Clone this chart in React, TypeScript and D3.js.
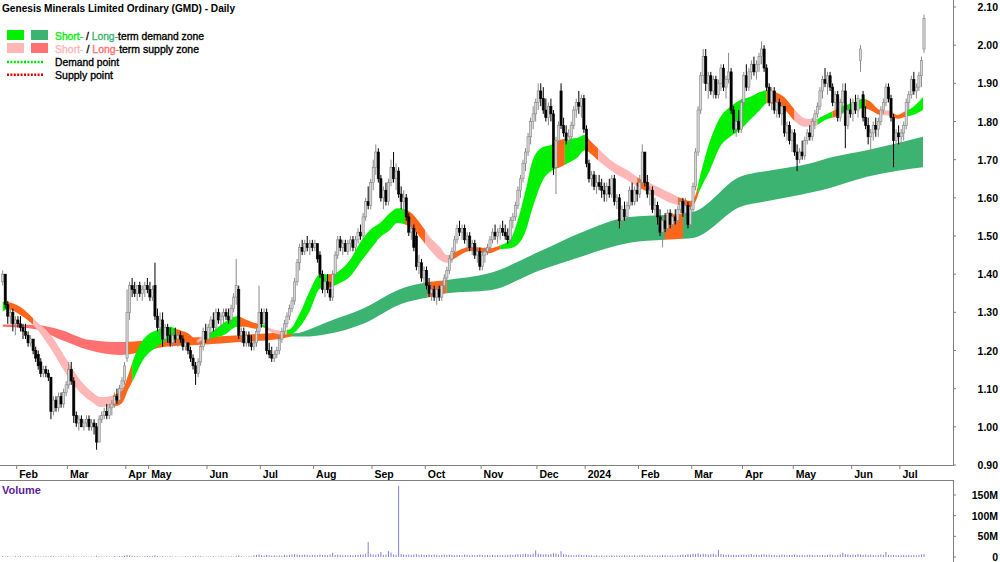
import React from 'react';
import * as d3 from 'd3';

// ---------- DATA ----------
// Daily candles, prices in cents: [open, high, low, close]
const jan23 = [[138,141,137,140],[140,140,131,132],[132,133,127,129],[129,131,127,130],[130,131,125,127],[127,129,124,128]];
const feb23 = [[128,129,126,127],[127,129,125,126],[126,127,123,125],[125,127,123,124],[124,125,121,122],[122,124,121,123],[123,123,119,120],[120,121,117,118],[119,120,115,116],[117,118,113,114],[114,116,113,115],[115,116,113,114],[114,115,112,113],[113,113,102,104],[104,108,103,107],[107,108,104,105],[105,109,104,108],[108,109,105,106],[106,110,105,109],[109,112,108,111]];
const mar23 = [[111,117,110,115],[115,117,111,112],[112,113,101,103],[103,104,100,101],[101,103,99,102],[102,103,100,100],[100,102,99,101],[101,103,100,102],[102,103,99,100],[100,102,99,101],[101,102,98,100],[100,101,94,96],[96,103,96,102],[102,104,101,103],[103,105,102,104],[104,106,102,103],[103,106,102,105],[105,107,103,106],[106,109,105,108],[108,110,106,107],[107,111,106,110],[110,113,109,112],[112,117,111,116]];
const apr23 = [[118,136,117,130],[130,138,128,137],[137,139,134,136],[136,138,134,135],[135,137,133,137],[137,138,134,135],[135,137,133,136],[136,138,134,137],[137,139,135,136]];
const may23 = [[136,138,133,134],[134,137,133,136],[137,143,128,129],[129,131,125,126],[126,130,124,128],[128,130,121,123],[123,127,122,126],[126,127,122,124],[124,126,121,122],[122,125,121,124],[124,126,122,123],[123,125,121,124],[124,125,122,123],[123,124,120,121],[121,123,120,122],[122,122,119,120],[120,121,117,118],[118,119,115,116],[116,117,111,114],[114,118,113,117],[117,122,116,121],[121,126,120,125],[125,127,122,123]];
const jun23 = [[123,127,122,126],[126,129,124,128],[128,130,125,126],[126,131,125,130],[130,131,127,128],[128,130,126,129],[129,131,127,130],[130,131,128,129],[129,131,127,128],[128,132,127,131],[131,135,130,134],[134,144,132,137],[136,137,123,124],[124,126,122,125],[125,126,121,122],[122,125,121,124],[124,125,121,122],[122,124,120,121],[121,123,120,122],[122,126,121,125],[125,137,124,130]];
const jul23 = [[130,131,126,127],[127,131,126,130],[130,131,119,120],[120,122,118,119],[119,121,117,118],[118,120,117,119],[119,121,118,120],[120,124,119,123],[123,126,122,125],[125,128,124,127],[127,130,126,129],[129,132,128,131],[131,134,130,133],[133,139,132,138],[138,144,137,143],[143,148,141,147],[147,149,145,146],[146,149,145,148],[148,150,146,147],[147,149,145,148],[148,149,146,147]];
const aug23 = [[147,149,146,148],[148,148,143,144],[145,146,139,140],[140,141,135,136],[136,139,134,138],[138,140,135,136],[136,138,133,134],[134,141,133,140],[140,146,139,145],[145,150,144,149],[149,150,146,147],[147,149,145,148],[148,149,146,146],[146,149,145,148],[148,150,146,149],[149,150,146,147],[147,150,146,149],[149,152,148,151],[151,153,149,150],[150,156,149,155],[155,160,154,159],[159,163,157,158],[158,165,157,164]];
const sep23 = [[164,170,162,168],[168,174,166,172],[172,173,164,165],[165,166,159,160],[160,163,157,162],[162,164,158,159],[159,165,158,164],[164,170,163,168],[168,172,164,165],[165,169,162,167],[167,168,160,161],[161,163,157,159],[159,162,156,160],[160,161,154,155],[155,156,150,151],[151,154,149,152],[152,153,146,147],[150,151,141,142],[142,145,140,143],[143,144,138,139],[139,142,137,141]];
const oct23 = [[141,142,136,137],[137,139,134,135],[135,138,133,136],[136,137,133,134],[134,137,132,136],[136,137,133,134],[134,138,133,137],[137,140,135,139],[139,142,138,141],[141,145,140,144],[144,147,143,146],[146,150,145,149],[149,153,148,152],[152,154,150,151],[151,153,149,152],[152,153,148,149],[149,151,146,150],[150,151,146,147],[147,149,145,148],[148,149,144,145],[145,147,143,146],[146,147,141,142]];
const nov23 = [[142,146,141,145],[145,147,143,146],[146,148,145,147],[147,150,146,149],[149,152,148,151],[151,153,149,150],[150,152,148,151],[151,153,149,152],[152,154,150,151],[151,153,149,150],[150,152,148,149],[149,155,148,154],[154,156,152,155],[155,159,154,158],[158,163,157,162],[162,166,160,165],[165,170,164,169],[169,173,167,172],[172,177,171,176],[176,181,174,180],[180,184,178,182],[182,186,180,185]];
const dec23 = [[185,190,183,188],[188,190,184,186],[186,189,182,183],[183,186,180,181],[181,185,179,184],[184,186,180,182],[182,183,166,168],[168,176,161,175],[175,180,174,179],[188,190,178,179],[179,181,176,177],[177,179,174,175],[175,178,173,176],[176,180,175,179],[179,184,178,183],[183,186,181,185],[185,188,182,184],[184,187,181,186],[186,187,177,178]];
const jan24 = [[178,179,168,169],[169,170,164,165],[165,167,163,166],[166,167,162,163],[163,166,161,164],[164,166,162,163],[163,165,160,162],[162,164,159,161],[161,164,159,163],[163,165,160,161],[161,166,160,165],[165,166,158,159],[159,161,157,160],[160,161,152,154],[154,158,153,157],[157,159,154,155],[155,159,154,158],[158,163,157,162],[162,164,158,159],[159,163,158,162],[162,164,159,161]];
const feb24 = [[161,166,160,164],[164,174,163,172],[172,172,163,164],[164,166,160,161],[161,163,158,162],[162,163,156,157],[157,160,155,158],[158,159,153,155],[155,157,150,151],[151,155,147,154],[154,156,151,152],[152,157,151,156],[156,157,152,153],[153,156,152,155],[155,157,153,154],[154,158,153,157],[157,160,156,159],[159,160,155,156],[156,160,155,158],[158,159,152,153],[153,158,152,157]];
const mar24 = [[157,164,156,163],[163,173,162,172],[172,184,171,183],[183,193,182,192],[192,199,190,197],[197,199,188,190],[190,193,186,192],[192,193,187,188],[188,192,186,191],[191,192,186,187],[187,191,186,190],[190,195,188,194],[194,195,188,189],[189,192,186,191],[191,198,190,193],[193,194,182,183],[183,184,177,178],[178,181,176,180],[180,183,177,178],[178,186,177,185]];
const apr24 = [[185,193,184,192],[192,195,188,189],[189,194,188,193],[193,196,191,195],[195,197,192,193],[193,196,191,195],[195,198,193,197],[197,201,195,199],[199,200,193,194],[194,195,188,189],[189,190,184,185],[185,189,183,188],[188,189,182,183],[183,186,181,185],[185,186,181,182],[182,185,179,184],[184,184,176,177],[177,180,175,179],[179,180,174,175],[175,178,172,177]];
const may24 = [[177,178,171,172],[172,174,167,170],[170,173,169,172],[172,175,170,171],[171,176,170,175],[175,178,174,177],[177,179,175,176],[176,181,175,180],[180,183,178,182],[182,185,181,184],[184,189,183,188],[188,192,186,191],[191,194,189,190],[190,193,187,192],[192,193,188,189],[189,190,184,185],[185,188,183,187],[187,188,180,181],[181,186,180,185],[185,190,182,188],[188,190,173,179],[179,184,178,183],[183,186,181,182]];
const jun24 = [[182,186,180,185],[185,187,182,183],[183,187,181,186],[196,200,193,199],[187,188,180,181],[181,184,178,179],[179,181,174,176],[176,178,172,177],[177,180,175,179],[179,181,176,178],[178,181,176,180],[180,184,179,183],[183,186,182,185],[185,190,184,189],[189,190,185,186],[186,187,180,181],[181,182,168,175],[175,178,173,177],[177,179,174,176]];
const jul24 = [[176,178,174,177],[177,180,175,179],[179,186,178,185],[185,188,183,187],[187,192,186,191],[191,193,187,188],[188,190,186,189],[189,193,188,192],[192,197,189,196],[199,208,198,207]];

// Daily volume in millions
const volumeMillions = [
  2,1,2,1,1,2,
  1,2,1,1,2,1,1,2,1,1,1,2,1,3,2,1,1,2,1,1,
  2,1,2,1,1,1,2,1,1,1,1,3,2,1,1,2,1,1,2,1,2,2,3,
  5,4,3,2,2,2,1,2,2,
  2,2,4,2,1,2,1,1,2,1,1,1,1,1,2,1,1,2,2,1,2,1,1,
  1,1,2,1,1,2,1,1,1,2,1,3,4,2,1,1,2,1,4,5,6,
  4,3,5,4,3,4,3,4,3,5,4,5,6,7,6,5,5,6,5,4,5,
  5,4,6,5,5,4,6,10,5,6,5,4,5,4,5,4,5,5,6,6,8,36,8,
  6,5,7,12,5,6,14,11,6,5,172,7,6,5,6,5,6,7,5,6,5,
  5,6,5,6,5,4,5,6,5,6,5,4,5,5,4,6,5,4,5,4,5,6,
  5,4,5,4,5,4,5,4,5,4,5,6,5,6,7,6,7,8,7,6,8,16,
  8,7,6,7,6,7,9,8,6,14,7,6,5,5,4,5,6,5,4,
  5,4,4,3,4,3,4,3,4,3,4,3,4,3,3,4,3,4,3,4,3,
  4,5,4,3,4,3,4,3,4,5,4,3,4,4,3,4,5,6,5,7,6,
  8,7,9,6,8,7,6,7,8,6,17,7,6,5,6,5,6,5,5,6,
  6,5,6,7,5,6,5,6,7,5,6,5,5,4,5,6,5,4,5,5,
  6,5,4,5,4,5,6,5,4,5,4,5,4,5,6,5,4,5,6,10,7,6,5,
  6,5,7,6,5,6,5,6,5,4,5,6,5,12,5,4,5,4,4,
  4,5,4,5,4,5,4,5,6,7,
];

// Month labels with the bar index of the first trading day
const monthLabels = ['Feb','Mar','Apr','May','Jun','Jul','Aug','Sep','Oct','Nov','Dec','2024','Feb','Mar','Apr','May','Jun','Jul'];
const monthStartIndex = [6,26,49,58,81,102,123,146,167,189,211,230,251,272,292,312,335,354];

const priceTicks = [0.9,1.0,1.1,1.2,1.3,1.4,1.5,1.6,1.7,1.8,1.9,2.0,2.1];
const volumeTicks = [0,50,100,150];
const volumeTickLabels = ['0','50M','100M','150M'];

// Short-term band: [bar index, upper, lower]
const shortBand = [
  [0,1.328,1.302],[2,1.327,1.308],[7,1.314,1.293],[12.7,1.280,1.262],[19.6,1.235,1.198],[25.3,1.175,1.135],
  [30.5,1.123,1.090],[35.6,1.089,1.063],[38.3,1.078,1.052],[44,1.084,1.054],[47,1.095,1.062],[49.4,1.135,1.097],
  [51.4,1.175,1.123],[55.3,1.228,1.175],[60.8,1.254,1.210],[65.9,1.262,1.228],[69,1.255,1.225],[73,1.245,1.228],
  [76.6,1.228,1.220],[79,1.240,1.228],[82,1.248,1.232],[87.6,1.275,1.242],[92.3,1.290,1.262],[95.5,1.282,1.262],
  [99.4,1.272,1.257],[102.2,1.268,1.262],[105.3,1.258,1.250],[109.3,1.252,1.242],[113.2,1.256,1.242],[117.1,1.298,1.262],
  [121.1,1.358,1.305],[125,1.400,1.362],[129,1.400,1.366],[132.9,1.410,1.377],[136.8,1.437,1.393],[140.8,1.482,1.430],
  [144.7,1.516,1.463],[148.7,1.534,1.497],[152.6,1.560,1.516],[155.4,1.573,1.534],[160.5,1.563,1.524],[164.4,1.534,1.497],
  [168.4,1.497,1.463],[172.3,1.471,1.437],[175,1.450,1.430],[178.2,1.458,1.442],[184.1,1.471,1.461],[192,1.468,1.455],
  [195.9,1.475,1.465],[199.9,1.490,1.468],[202.6,1.534,1.476],[205.8,1.613,1.508],[208.9,1.700,1.576],[212.9,1.733,1.647],
  [216.8,1.740,1.673],[219.6,1.752,1.680],[222.4,1.755,1.690],[226.3,1.757,1.705],[229.4,1.765,1.725],[231.4,1.750,1.717],
  [235.3,1.725,1.694],[240.5,1.694,1.668],[246,1.673,1.647],[251.1,1.650,1.626],[255,1.639,1.613],[259,1.626,1.600],
  [262.9,1.613,1.587],[266.9,1.600,1.580],[270.8,1.592,1.576],[272.8,1.605,1.588],[274.7,1.655,1.620],[278.7,1.750,1.673],
  [282.6,1.810,1.733],[286.6,1.838,1.760],[290.5,1.856,1.778],[294.4,1.864,1.804],[298.4,1.877,1.830],[301.1,1.882,1.848],
  [304.3,1.877,1.845],[308.2,1.862,1.830],[312.2,1.830,1.800],[316.1,1.808,1.786],[320,1.806,1.788],[324,1.817,1.804],
  [327.9,1.830,1.812],[331.9,1.843,1.825],[335.8,1.850,1.830],[339,1.860,1.835],[341.7,1.853,1.830],[345.7,1.830,1.817],
  [349.6,1.828,1.815],[352.4,1.817,1.807],[355.5,1.826,1.812],[358.7,1.838,1.817],[362.6,1.864,1.830],
];

// Long-term band: [bar index, upper, lower]
const longBand = [
  [0,1.268,1.262],[13,1.267,1.256],[23,1.254,1.228],[34,1.228,1.201],[46,1.222,1.188],[54,1.225,1.195],
  [64,1.233,1.210],[78,1.235,1.215],[93.5,1.240,1.222],[109,1.246,1.230],[115,1.245,1.237],[121,1.256,1.237],
  [128,1.275,1.243],[142,1.310,1.270],[157,1.362,1.322],[168.4,1.380,1.340],[175,1.385,1.350],[192,1.403,1.358],
  [211.7,1.460,1.410],[227.5,1.508,1.445],[247,1.550,1.482],[261,1.555,1.490],[272,1.563,1.495],[290.5,1.655,1.576],
  [303.5,1.673,1.594],[318,1.690,1.613],[327,1.707,1.628],[340.5,1.725,1.655],[362.6,1.760,1.680],
];

// Zone colouring: [from index, to index, state]
const shortZones = [
  [0,2,'d'],[2,12,'n'],[12,43.5,'s'],[43.5,51,'n'],[51,68,'d'],[68,76.5,'n'],[76.5,79,'s'],[79,93.5,'d'],
  [93.5,101.4,'n'],[101.4,104.5,'d'],[104.5,112,'s'],[112,128,'d'],[128,130.5,'n'],[130.5,158.5,'d'],
  [158.5,166.4,'n'],[166.4,177,'s'],[177,196,'n'],[196,218.4,'d'],[218.4,221.5,'n'],[221.5,230,'d'],
  [230,234.6,'n'],[234.6,250,'s'],[250,254,'n'],[254,266,'s'],[266,274,'n'],[274,301,'d'],[301,312,'n'],
  [312,321,'s'],[321,327,'d'],[327,329,'n'],[329,340,'d'],[340,346,'n'],[346,351,'s'],[351,355.5,'n'],[355.5,363,'d'],
];
const longZones = [
  [0,49.4,'s'],[49.4,114,'n'],[114,167.5,'d'],[167.5,175,'n'],[175,261,'d'],[261,268,'n'],[268,363,'d'],
];

const candles = [
  ...jan23, ...feb23, ...mar23, ...apr23, ...may23, ...jun23, ...jul23, ...aug23, ...sep23, ...oct23, ...nov23, ...dec23,
  ...jan24, ...feb24, ...mar24, ...apr24, ...may24, ...jun24, ...jul24,
];

// ---------- STYLE ----------
const FONT = "Arial, 'Liberation Sans', sans-serif";
const C = {
  shortDemand: '#00F000',
  longDemand: '#3CB371',
  shortSupply: '#FFB6B6',
  longSupply: '#FF7070',
  neutral: '#FF6619',
  axis: '#808080',
  volume: '#8282D6',
};

function Heavy({ color, children }: { color: string; children: React.ReactNode }) {
  return (
    <tspan fill={color} stroke={color} strokeWidth={0.35}>
      {children}
    </tspan>
  );
}

export default function App() {
  const n = candles.length;
  const step = 2.538;
  const x = d3.scaleLinear().domain([0, 363]).range([2.7, 2.7 + 363 * step]);
  const y = d3.scaleLinear().domain([0.9, 2.1]).range([465, 7]);
  const yv = d3.scaleLinear().domain([0, 150]).range([557, 495]);
  const plotRight = 953;

  const area = d3
    .area<number[]>()
    .x((d) => x(d[0]))
    .y0((d) => y(d[2]))
    .y1((d) => y(d[1]))
    .curve(d3.curveMonotoneX);

  const shortPath = area(shortBand as number[][]) || '';
  const longPath = area(longBand as number[][]) || '';

  const zoneColor = (kind: string, s: string) =>
    s === 'n' ? C.neutral : kind === 'short' ? (s === 'd' ? C.shortDemand : C.shortSupply) : s === 'd' ? C.longDemand : C.longSupply;

  const clipRect = (a: number, b: number, last: boolean, first: boolean) => {
    const x0 = first ? x(a) - 4 : x(a);
    const x1 = last ? x(b) + 4 : x(b);
    return { x: x0, width: Math.max(0, x1 - x0) };
  };

  return (
    <svg
      width={1000}
      height={562}
      viewBox="0 0 1000 562"
      style={{ position: 'absolute', left: 0, top: 0, background: '#fff' }}
      fontFamily={FONT}
    >
      <defs>
        {shortZones.map((z, k) => {
          const r = clipRect(z[0] as number, z[1] as number, k === shortZones.length - 1, k === 0);
          return (
            <clipPath id={`sz${k}`} key={`sz${k}`}>
              <rect x={r.x} y={0} width={r.width} height={470} />
            </clipPath>
          );
        })}
        {longZones.map((z, k) => {
          const r = clipRect(z[0] as number, z[1] as number, k === longZones.length - 1, k === 0);
          return (
            <clipPath id={`lz${k}`} key={`lz${k}`}>
              <rect x={r.x} y={0} width={r.width} height={470} />
            </clipPath>
          );
        })}
      </defs>

      <rect x={0} y={0} width={1000} height={562} fill="#fff" />

      {/* long-term band */}
      {longZones.map((z, k) => (
        <path key={`l${k}`} d={longPath} fill={zoneColor('long', z[2] as string)} clipPath={`url(#lz${k})`} />
      ))}
      {/* short-term band */}
      {shortZones.map((z, k) => (
        <path key={`s${k}`} d={shortPath} fill={zoneColor('short', z[2] as string)} clipPath={`url(#sz${k})`} />
      ))}

      {/* candles */}
      {candles.map((c, i) => {
        const [o, h, l, cl] = c.map((v) => v / 100);
        const up = cl >= o;
        const cx = x(i);
        const yTop = y(Math.max(o, cl));
        const yBot = y(Math.min(o, cl));
        const bh = Math.max(1, yBot - yTop);
        return (
          <g key={`c${i}`}>
            <line x1={cx} x2={cx} y1={y(h)} y2={y(l)} stroke={up ? '#8a8a8a' : '#000'} strokeWidth={1} />
            <rect
              x={cx - 1.1}
              y={yTop}
              width={2.2}
              height={bh}
              fill={up ? '#d6d6d6' : '#000'}
              stroke={up ? '#858585' : '#000'}
              strokeWidth={0.6}
            />
          </g>
        );
      })}

      {/* title */}
      <text x={2} y={12} fontSize={11} fontWeight="bold" fill="#000" textLength={233} lengthAdjust="spacingAndGlyphs">
        Genesis Minerals Limited Ordinary (GMD) - Daily
      </text>

      {/* legend */}
      <rect x={7} y={30} width={17} height={10} fill={C.shortDemand} />
      <rect x={31} y={30} width={17} height={10} fill={C.longDemand} />
      <rect x={7} y={43} width={17} height={10} fill={C.shortSupply} />
      <rect x={31} y={43} width={17} height={10} fill={C.longSupply} />
      <line x1={7} x2={44} y1={62} y2={62} stroke="#00E000" strokeWidth={2.6} strokeDasharray="2 1.4" />
      <line x1={7} x2={44} y1={74.7} y2={74.7} stroke="#F00000" strokeWidth={2.6} strokeDasharray="2 1.4" />
      <text x={55} y={39.5} fontSize={10.5} textLength={149} lengthAdjust="spacingAndGlyphs">
        <Heavy color={C.shortDemand}>Short-</Heavy>
        <Heavy color="#000"> / </Heavy>
        <Heavy color={C.longDemand}>Long-</Heavy>
        <Heavy color="#000">term demand zone</Heavy>
      </text>
      <text x={55} y={52.5} fontSize={10.5} textLength={144} lengthAdjust="spacingAndGlyphs">
        <Heavy color={C.shortSupply}>Short-</Heavy>
        <Heavy color="#000"> / </Heavy>
        <Heavy color={C.longSupply}>Long-</Heavy>
        <Heavy color="#000">term supply zone</Heavy>
      </text>
      <text x={55} y={66} fontSize={10.5} fill="#000" stroke="#000" strokeWidth={0.35} textLength={64} lengthAdjust="spacingAndGlyphs">
        Demand point
      </text>
      <text x={55} y={78.5} fontSize={10.5} fill="#000" stroke="#000" strokeWidth={0.35} textLength={58} lengthAdjust="spacingAndGlyphs">
        Supply point
      </text>

      {/* frame lines */}
      <line x1={0} x2={plotRight} y1={465.5} y2={465.5} stroke={C.axis} strokeWidth={1} />
      <line x1={0} x2={plotRight} y1={480.5} y2={480.5} stroke={C.axis} strokeWidth={1} />
      <line x1={plotRight + 0.5} x2={plotRight + 0.5} y1={0} y2={466} stroke={C.axis} strokeWidth={1} />
      <line x1={plotRight + 0.5} x2={plotRight + 0.5} y1={480} y2={562} stroke={C.axis} strokeWidth={1} />

      {/* price axis */}
      {priceTicks.map((p) => (
        <g key={`pt${p}`}>
          <line x1={plotRight} x2={plotRight + 3} y1={y(p)} y2={y(p)} stroke={C.axis} />
          <text x={998} y={y(p) + 4} fontSize={10.5} fontWeight="bold" textAnchor="end" fill="#000">
            {p.toFixed(2)}
          </text>
        </g>
      ))}

      {/* month axis */}
      {monthLabels.map((m, k) => {
        const tx = x(monthStartIndex[k]) - step / 2;
        return (
          <g key={`m${k}`}>
            <line x1={tx} x2={tx} y1={465.5} y2={469} stroke={C.axis} />
            <text x={tx + 2.5} y={477.5} fontSize={10.5} fontWeight="bold" fill="#000">
              {m}
            </text>
          </g>
        );
      })}

      {/* volume */}
      <text x={2} y={494} fontSize={11} fontWeight="bold" fill="#5A1E96">
        Volume
      </text>
      {volumeMillions.slice(0, n).map((v, i) => (
        <line key={`v${i}`} x1={x(i)} x2={x(i)} y1={yv(0)} y2={yv(v)} stroke={C.volume} strokeWidth={1} />
      ))}
      {volumeTicks.map((v, k) => (
        <g key={`vt${v}`}>
          <line x1={plotRight} x2={plotRight + 3} y1={yv(v)} y2={yv(v)} stroke={C.axis} />
          <text x={998} y={yv(v) + 4} fontSize={10.5} fontWeight="bold" textAnchor="end" fill="#000">
            {volumeTickLabels[k]}
          </text>
        </g>
      ))}
    </svg>
  );
}
